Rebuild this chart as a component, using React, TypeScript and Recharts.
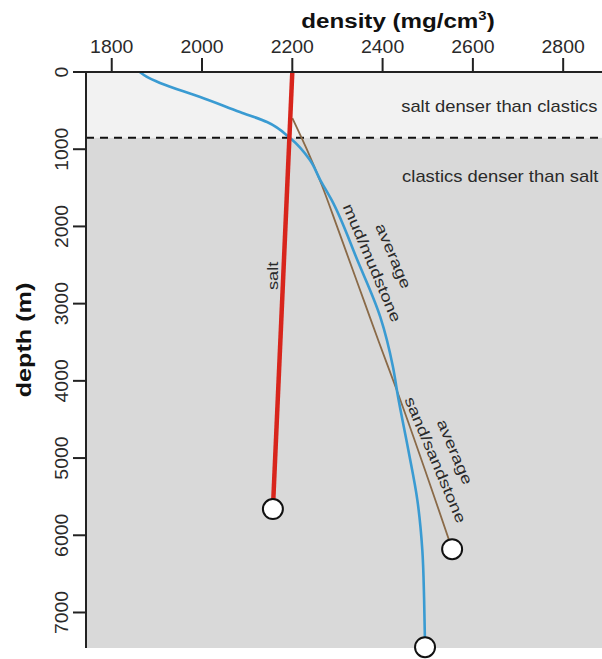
import React from "react";
import {
  ComposedChart,
  Line,
  XAxis,
  YAxis,
  ReferenceArea,
  ReferenceLine,
  ReferenceDot,
} from "recharts";

// axis ticks
const densityTicks = [1800, 2000, 2200, 2400, 2600, 2800];
const depthTicks = [0, 1000, 2000, 3000, 4000, 5000, 6000, 7000];

// salt (red)
const saltDensity = [2200, 2157];
const saltDepth = [0, 5660];

// clastic compaction curve (blue)
const clasticDensity = [
  1862, 1877, 1907, 1996, 2084, 2144, 2195, 2239, 2262, 2287, 2344, 2395,
  2423, 2434, 2457, 2477, 2488, 2492, 2494,
];
const clasticDepth = [
  0, 60, 142, 324, 518, 648, 855, 1140, 1399, 1657, 2435, 3174, 3821, 4200,
  4896, 5544, 6192, 6839, 7450,
];

// average mud/mudstone -> sand/sandstone (brown)
const averageDensity = [2200, 2232, 2265, 2299, 2334, 2361, 2392, 2427, 2554];
const averageDepth = [596, 1000, 1460, 2000, 2565, 3000, 3500, 4050, 6180];

const crossoverDepth = 850;

const FONT = '"Liberation Sans", Arial, Helvetica, sans-serif';

const toPoints = (dens: number[], depth: number[]) =>
  dens.map((d, i) => ({ density: d, depth: depth[i] }));

const saltData = toPoints(saltDensity, saltDepth);
const clasticData = toPoints(clasticDensity, clasticDepth);
const averageData = toPoints(averageDensity, averageDepth);

const endDot = (count: number) => (props: any) =>
  props.index === count - 1 ? (
    <circle
      key={`end-${props.index}`}
      cx={props.cx}
      cy={props.cy}
      r={10}
      fill="#ffffff"
      stroke="#111111"
      strokeWidth={2}
    />
  ) : (
    <g key={`none-${props.index}`} />
  );

const DensityTick = (props: any) => {
  const { x, payload } = props;
  return (
    <text
      transform={`translate(${x},53) scale(1.08,1)`}
      textAnchor="middle"
      fontFamily={FONT}
      fontSize={18}
      fill="#2a2a2a"
    >
      {payload.value}
    </text>
  );
};

const DepthTick = (props: any) => {
  const { y, payload } = props;
  return (
    <text
      transform={`translate(68,${y}) rotate(-90) scale(1.08,1)`}
      textAnchor="middle"
      fontFamily={FONT}
      fontSize={18}
      fill="#2a2a2a"
    >
      {payload.value}
    </text>
  );
};

const DensityTitle = () => (
  <text
    transform="translate(398,28) scale(1.15,1)"
    textAnchor="middle"
    fontFamily={FONT}
    fontSize={21}
    fontWeight="bold"
    fill="#111"
  >
    density (mg/cm
    <tspan dy={-8} fontSize={13}>
      3
    </tspan>
    <tspan dy={8}>)</tspan>
  </text>
);

const DepthTitle = () => (
  <text
    transform="translate(31,340) rotate(-90) scale(1.26,1)"
    textAnchor="middle"
    fontFamily={FONT}
    fontSize={20}
    fontWeight="bold"
    fill="#111"
  >
    depth (m)
  </text>
);

// text placed at a data coordinate
const note =
  (text: string, angle: number, anchor: string, stretch: number, size = 15) =>
  (props: any) => (
    <text
      transform={`translate(${props.cx},${props.cy}) rotate(${angle}) scale(${stretch},1)`}
      textAnchor={anchor}
      dominantBaseline={angle === 0 ? "auto" : "central"}
      fontFamily={FONT}
      fontSize={size}
      fill="#2a2a2a"
    >
      {text}
    </text>
  );

export default function App() {
  return (
    <div style={{ position: "absolute", left: 0, top: 0, width: 602, height: 659 }}>
      <ComposedChart
        width={602}
        height={659}
        margin={{ top: 12, left: 6, right: 0, bottom: 11 }}
      >
        <XAxis
          xAxisId={0}
          type="number"
          dataKey="density"
          orientation="top"
          domain={[1743, 2886]}
          ticks={densityTicks}
          height={60}
          tickSize={14}
          tick={<DensityTick />}
          axisLine={{ stroke: "#222", strokeWidth: 2 }}
          tickLine={{ stroke: "#222", strokeWidth: 2 }}
          label={{ content: <DensityTitle /> }}
        />
        <YAxis
          yAxisId={0}
          type="number"
          dataKey="depth"
          domain={[0, 7460]}
          reversed
          ticks={depthTicks}
          width={80}
          tickSize={13}
          tick={<DepthTick />}
          axisLine={{ stroke: "#222", strokeWidth: 2 }}
          tickLine={{ stroke: "#222", strokeWidth: 2 }}
          label={{ content: <DepthTitle /> }}
        />

        <ReferenceArea y1={0} y2={crossoverDepth} fill="#f2f2f2" fillOpacity={1} stroke="none" />
        <ReferenceArea y1={crossoverDepth} y2={7460} fill="#d9d9d9" fillOpacity={1} stroke="none" />
        <ReferenceLine
          y={crossoverDepth}
          stroke="#111"
          strokeWidth={2}
          strokeDasharray="8 6"
        />

        <Line
          data={averageData}
          dataKey="depth"
          type="monotoneY"
          stroke="#8a6a48"
          strokeWidth={1.8}
          dot={endDot(averageData.length)}
          activeDot={false}
          isAnimationActive={false}
        />
        <Line
          data={clasticData}
          dataKey="depth"
          type="monotoneY"
          stroke="#3a9bd2"
          strokeWidth={2.6}
          dot={endDot(clasticData.length)}
          activeDot={false}
          isAnimationActive={false}
        />
        <Line
          data={saltData}
          dataKey="depth"
          type="linear"
          stroke="#d8251c"
          strokeWidth={4.5}
          dot={endDot(saltData.length)}
          activeDot={false}
          isAnimationActive={false}
        />

        <ReferenceDot x={2876} y={518} ifOverflow="visible" shape={note("salt denser than clastics", 0, "end", 1.15, 16)} />
        <ReferenceDot x={2878} y={1424} ifOverflow="visible" shape={note("clastics denser than salt", 0, "end", 1.15, 16)} />
        <ReferenceDot x={2156} y={2641} ifOverflow="visible" shape={note("salt", -90, "middle", 1.3, 14)} />
        <ReferenceDot x={2424} y={2382} ifOverflow="visible" shape={note("average", 67, "middle", 1.28)} />
        <ReferenceDot x={2377} y={2473} ifOverflow="visible" shape={note("mud/mudstone", 67, "middle", 1.28)} />
        <ReferenceDot x={2560} y={4920} ifOverflow="visible" shape={note("average", 67, "middle", 1.28)} />
        <ReferenceDot x={2517} y={5023} ifOverflow="visible" shape={note("sand/sandstone", 67, "middle", 1.28)} />
      </ComposedChart>
    </div>
  );
}
